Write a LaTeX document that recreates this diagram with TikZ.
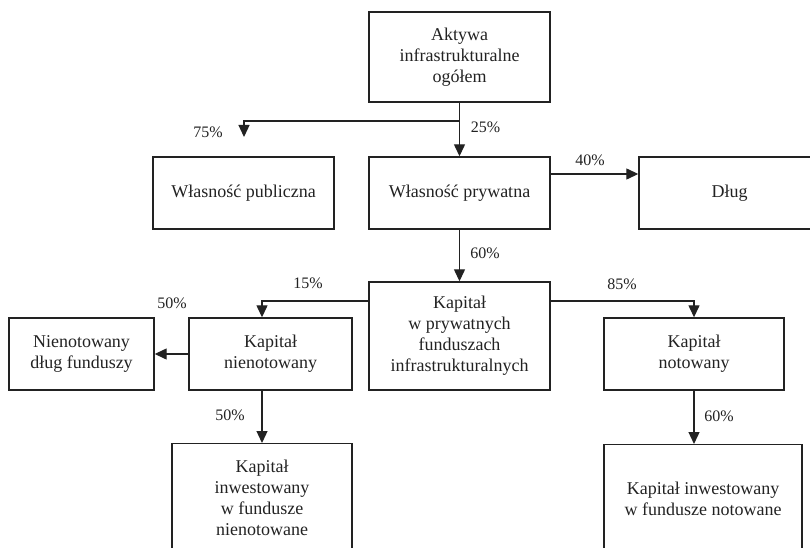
\documentclass[tikz,border=0pt]{standalone}
\usepackage{fontspec}
\setmainfont{Liberation Serif}
\usetikzlibrary{arrows.meta}
\definecolor{ink}{HTML}{222222}
\tikzset{
  box/.style={draw=ink, line width=1.4pt, text=ink, align=center, inner sep=2pt,
    font=\fontsize{18}{21}\selectfont},
  conn/.style={draw=ink, line width=1.3pt, -{Triangle[length=12pt,width=11pt]}},
  pct/.style={text=ink, inner sep=0pt, font=\fontsize{16}{19}\selectfont}
}
\begin{document}
\begin{tikzpicture}[x=1pt,y=-1pt]
\useasboundingbox (0,0) rectangle (810,548);
\clip (0,0) rectangle (810,548);
% boxes
\node[box, minimum width=181pt, minimum height=90pt] (aktywa) at (459.5,57) {Aktywa\\infrastrukturalne\\ogółem};
\node[box, minimum width=181pt, minimum height=72pt] (publ) at (243.5,193) {Własność publiczna};
\node[box, minimum width=181pt, minimum height=72pt] (pryw) at (459.5,193) {Własność prywatna};
\node[box, minimum width=181pt, minimum height=72pt] (dlug) at (729.5,193) {Dług};
\node[box, minimum width=181pt, minimum height=108pt] (kpf) at (459.5,336) {Kapitał\\w prywatnych\\funduszach\\infrastrukturalnych};
\node[box, minimum width=163pt, minimum height=72pt] (knien) at (270.5,354) {Kapitał\\nienotowany};
\node[box, minimum width=145pt, minimum height=72pt] (ndlug) at (81.5,354) {Nienotowany\\dług funduszy};
\node[box, minimum width=180pt, minimum height=72pt] (knot) at (694,354) {Kapitał\\notowany};
\node[box, minimum width=180pt, minimum height=108pt, anchor=north] (kinwn) at (262,443) {Kapitał\\inwestowany\\w fundusze\\nienotowane};
\node[box, minimum width=198pt, minimum height=108pt, anchor=north] (kinwr) at (703,444) {Kapitał inwestowany\\w fundusze notowane};
% connectors
\coordinate (c75) at (244,137);
\draw[conn] (aktywa.south) -- (pryw.north);
\draw[conn] (aktywa.south |- 0,121) -| (c75);
\draw[conn] (pryw.east |- 0,174) -- (dlug.west |- 0,174);
\draw[conn] (pryw.south) -- (kpf.north);
\draw[conn] (kpf.east |- 0,301) -| (knot.north);
\draw[conn] (kpf.west |- 0,301) -| ([xshift=-8.5pt]knien.north);
\draw[conn] (knien.west) -- (ndlug.east);
\draw[conn] (kinwn.north |- knien.south) -- (kinwn.north);
\draw[conn] (knot.south) -- (knot.south |- kinwr.north);
% labels
\node[pct] (l75) at (208,132) {75\%};
\node[pct] (l25) at (485.5,127) {25\%};
\node[pct] (l40) at (590,160) {40\%};
\node[pct] (l60a) at (485,253) {60\%};
\node[pct] (l85) at (622,284) {85\%};
\node[pct] (l15) at (308,283) {15\%};
\node[pct] (l50a) at (172,303) {50\%};
\node[pct] (l50b) at (230,415) {50\%};
\node[pct] (l60b) at (719,416) {60\%};
\end{tikzpicture}
\end{document}
